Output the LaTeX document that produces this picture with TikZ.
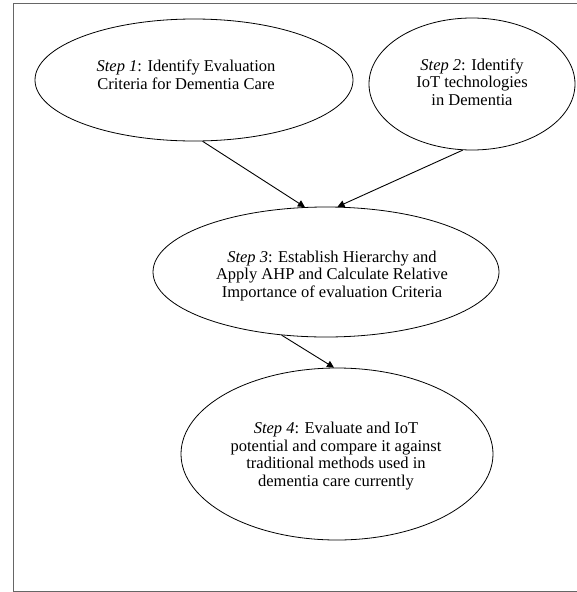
\documentclass[tikz,border=0pt]{standalone}
\usepackage{fontspec}
\setmainfont{Liberation Serif}
\usetikzlibrary{shapes.geometric,arrows.meta,calc}
\begin{document}
\begin{tikzpicture}[x=1pt,y=-1pt,
  stepell/.style={draw=black, line width=0.8pt, ellipse, inner sep=0pt},
  steptext/.style={align=center, inner sep=0pt, font=\fontsize{16.5}{17.5}\selectfont},
  conn/.style={draw=black, line width=0.9pt, -{Triangle[width=7pt,length=7pt]}}]
\useasboundingbox (0,0) rectangle (576,592);
\draw[gray!80!black, line width=1pt] (580,3) -- (13,3) -- (13,591) -- (580,591);
\node[stepell, minimum width=318pt, minimum height=122pt] (e1) at (194,80) {};
\node[stepell, minimum width=206pt, minimum height=132pt] (e2) at (472,84) {};
\node[stepell, minimum width=346pt, minimum height=130pt] (e3) at (326,272) {};
\node[stepell, minimum width=312pt, minimum height=172pt] (e4) at (337,454) {};
\node[steptext] (t1) at ($(e1.center)+(-8,-5)$) {\textit{Step 1}: Identify Evaluation\\Criteria for Dementia Care};
\node[steptext] (t2) at ($(e2.center)+(0,-2)$) {\textit{Step 2}: Identify\\IoT technologies\\in Dementia};
\node[steptext] (t3) at ($(e3.center)+(6,4)$) {\textit{Step 3}: Establish Hierarchy and\\Apply AHP and Calculate Relative\\Importance of evaluation Criteria};
\node[steptext] (t4) at ($(e4.center)+(-1,2)$) {\textit{Step 4}: Evaluate and IoT\\potential and compare it against\\traditional methods used in\\dementia care currently};
\draw[conn] (e1.-82.6) -- (e3.108);
\draw[conn] (e2.262.5) -- (e3.80);
\draw[conn] (e3.-125.6) -- (e4.92);
\end{tikzpicture}
\end{document}
